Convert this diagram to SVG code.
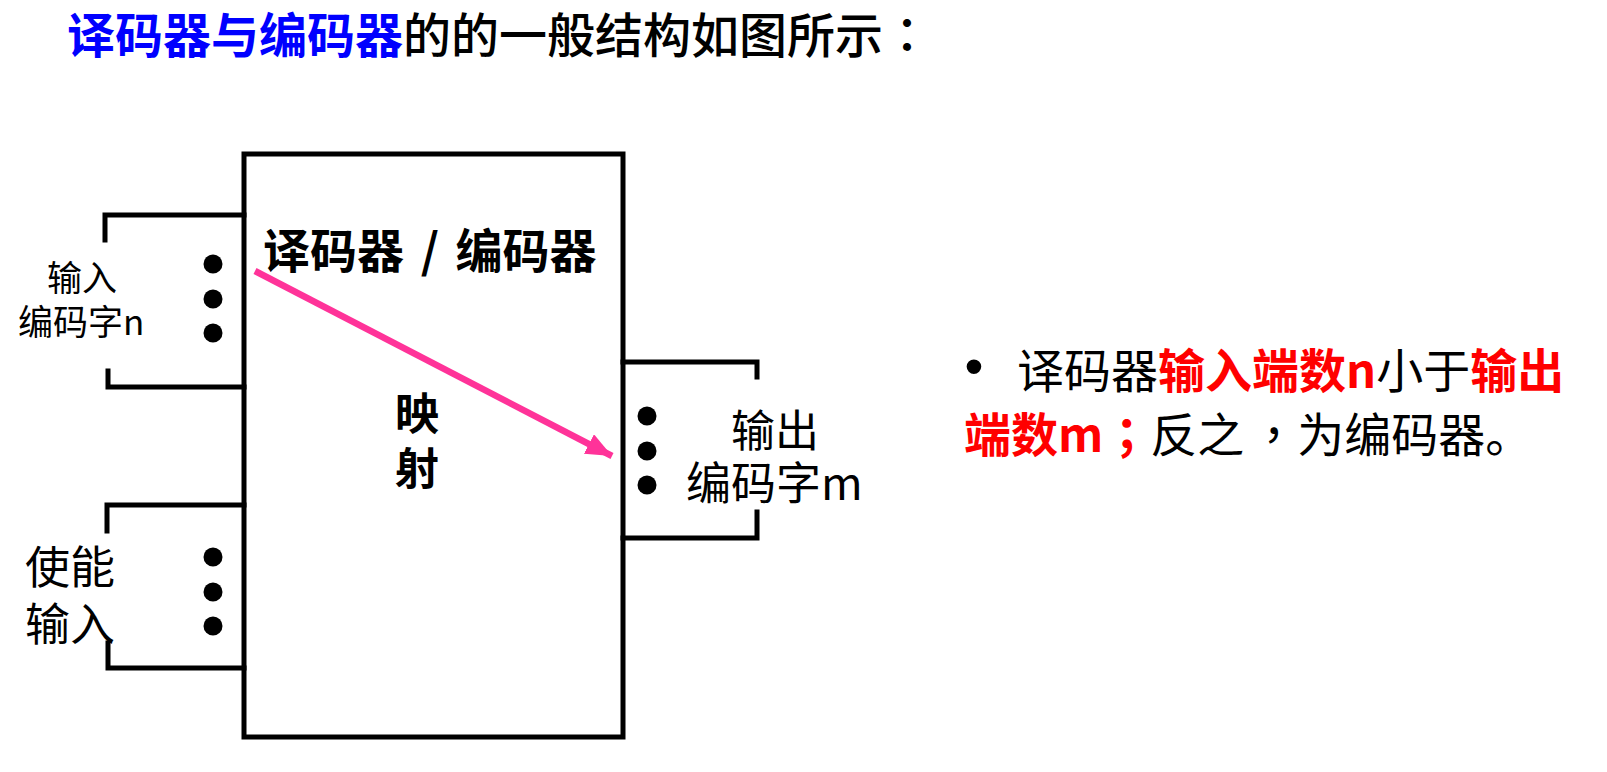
<svg xmlns="http://www.w3.org/2000/svg" width="1607" height="772" viewBox="0 0 1607 772">
  <style>
    text { font-family: "Noto Sans CJK SC", "Noto Sans", sans-serif; fill: #000; }
    .b { font-weight: bold; }
    .m { font-weight: 500; }
    .blue { fill: #0000FF; }
    .red { fill: #FF0000; }
    .p { font-family: "Noto Sans CJK TC", sans-serif; }
    .ln { fill: none; stroke: #000; stroke-width: 5; stroke-linecap: square; }
    .dot { fill: #000; }
  </style>
  <defs>
    <marker id="ah" markerUnits="userSpaceOnUse" markerWidth="30" markerHeight="24" refX="26" refY="11" orient="auto">
      <path d="M0,0 L26,11 L0,22 Z" fill="#FF3399"/>
    </marker>
  </defs>
  <rect width="1607" height="772" fill="#fff"/>

  <g id="title">
    <text x="67" y="53" font-size="48"><tspan class="b blue">译码器与编码器</tspan><tspan class="m">的的一般结构如图所示</tspan><tspan class="m p">：</tspan></text>
  </g>

  <g id="block">
    <rect x="244" y="154" width="379" height="583" fill="#fff" stroke="#000" stroke-width="5"/>
    <text x="263" y="268" font-size="47" class="b" word-spacing="6">译码器 / 编码器</text>
    <text x="395" y="430" font-size="44" class="b">映</text>
    <text x="395" y="485" font-size="44" class="b">射</text>
  </g>

  <g id="input-code">
    <polyline class="ln" points="244,215 105,215 105,240"/>
    <polyline class="ln" points="108,362 108,378 244,378" transform="translate(0,9)"/>
    <circle class="dot" cx="213" cy="264" r="9.5"/>
    <circle class="dot" cx="213" cy="299" r="9.5"/>
    <circle class="dot" cx="213" cy="333" r="9.5"/>
    <text x="47" y="291" font-size="35">输入</text>
    <text x="18" y="335" font-size="35">编码字n</text>
  </g>

  <g id="enable-input">
    <polyline class="ln" points="244,505 107,505 107,531"/>
    <polyline class="ln" points="108,643 108,668 244,668"/>
    <circle class="dot" cx="213" cy="557" r="9.5"/>
    <circle class="dot" cx="213" cy="592" r="9.5"/>
    <circle class="dot" cx="213" cy="626" r="9.5"/>
    <text x="25" y="584" font-size="45">使能</text>
    <text x="25" y="641" font-size="45">输入</text>
  </g>

  <g id="output-code">
    <polyline class="ln" points="623,362 757,362 757,377"/>
    <polyline class="ln" points="757,512 757,538 623,538"/>
    <circle class="dot" cx="647" cy="416" r="9.5"/>
    <circle class="dot" cx="647" cy="451" r="9.5"/>
    <circle class="dot" cx="647" cy="485" r="9.5"/>
    <text x="731" y="447" font-size="44">输出</text>
    <text x="686" y="500" font-size="45">编码字m</text>
  </g>

  <g id="connectors">
    <line x1="255" y1="271" x2="612" y2="456" stroke="#FF3399" stroke-width="6.5" marker-end="url(#ah)"/>
  </g>

  <g id="note">
    <text x="974" y="385" font-size="54" text-anchor="middle" style="font-family: 'Liberation Sans', sans-serif">•</text>
    <text x="1017" y="388" font-size="47"><tspan>译码器</tspan><tspan class="b red">输入端数n</tspan><tspan>小于</tspan><tspan class="b red">输出</tspan></text>
    <text x="964" y="452" font-size="47"><tspan class="b red">端数m</tspan><tspan class="b red p">；</tspan><tspan>反之</tspan><tspan class="p" dx="6">，</tspan><tspan>为编码器。</tspan></text>
  </g>
</svg>
